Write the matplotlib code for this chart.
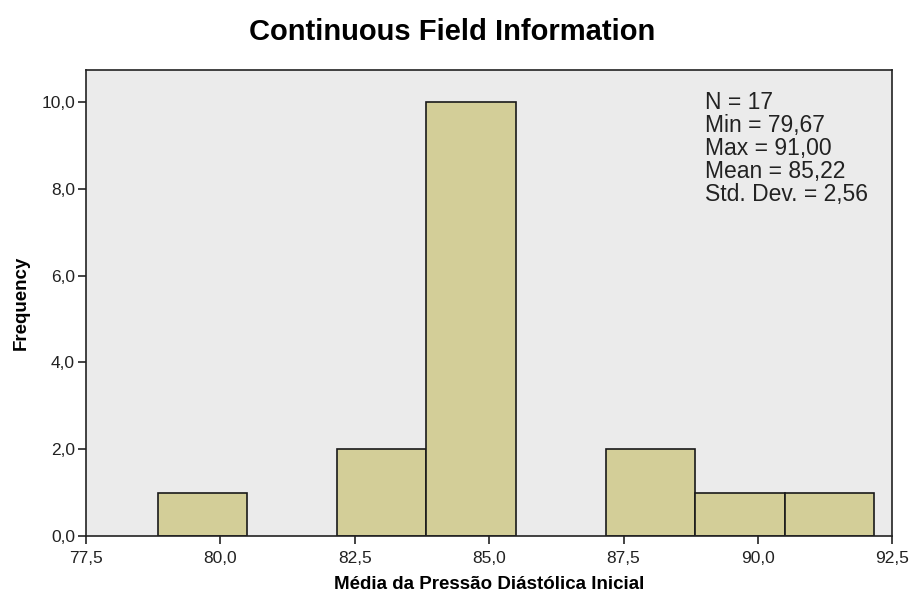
import numpy as np
import matplotlib
matplotlib.use('Agg')
import matplotlib.pyplot as plt
from matplotlib.ticker import FuncFormatter

plt.rcParams.update({
    'font.family': 'Liberation Sans',
    'font.size': 12,
})

# Histogram data
bin_edges = [78.833, 80.5, 82.167, 83.833, 85.5, 87.167, 88.833, 90.5, 92.167]
counts = [1, 0, 2, 10, 0, 2, 1, 1]
stats_lines = ['N = 17', 'Min = 79,67', 'Max = 91,00', 'Mean = 85,22', 'Std. Dev. = 2,56']
x_ticks = [77.5, 80.0, 82.5, 85.0, 87.5, 90.0, 92.5]
y_ticks = [0, 2, 4, 6, 8, 10]

fig = plt.figure(figsize=(9.1, 5.97), dpi=100)
ax = fig.add_axes([0.0945, 0.102, 0.886, 0.781])
ax.set_facecolor('#EBEBEB')

lefts = np.array(bin_edges[:-1])
widths = np.diff(bin_edges)
for l, w, c in zip(lefts, widths, counts):
    if c > 0:
        ax.bar(l, c, width=w, align='edge', color='#D3CE98', edgecolor='#1a1a1a', linewidth=1.2)

ax.set_xlim(77.5, 92.5)
ax.set_ylim(0, 10.74)
ax.set_xticks(x_ticks)
ax.set_yticks(y_ticks)
comma = FuncFormatter(lambda v, p: f'{v:.1f}'.replace('.', ','))
ax.xaxis.set_major_formatter(comma)
ax.yaxis.set_major_formatter(comma)
ax.tick_params(direction='out', length=6, width=1.2, labelsize=12.5, colors='#222222', pad=2)
ax.tick_params(axis='x', pad=5)
for s in ax.spines.values():
    s.set_linewidth(1.2)
    s.set_color('#222222')

ax.set_xlabel('Média da Pressão Diástólica Inicial', fontweight='bold', fontsize=13.5, labelpad=7)
ax.set_ylabel('Frequency', fontweight='bold', fontsize=13.5, labelpad=8)
fig.text(0.497, 0.946, 'Continuous Field Information', fontweight='bold', fontsize=21,
         ha='center', va='center')

ax.text(0.768, 0.955, '\n'.join(stats_lines), transform=ax.transAxes,
        ha='left', va='top', fontsize=16.5, linespacing=1.0, color='#222222')

fig.savefig('out.png', dpi=100)
